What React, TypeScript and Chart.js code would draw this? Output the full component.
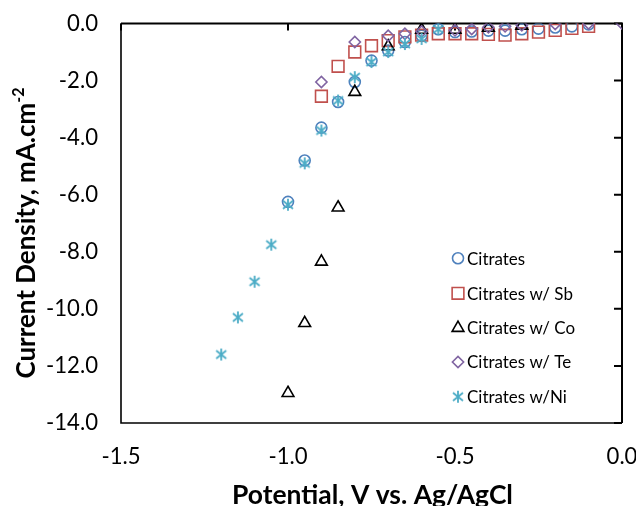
import React, { useEffect, useRef } from "react";
import { Chart, registerables } from "chart.js";
import { drawPoint } from "chart.js/helpers";

Chart.register(...registerables);

const seriesNames = ["Citrates", "Citrates w/ Sb", "Citrates w/ Co", "Citrates w/ Te", "Citrates w/Ni"];

const citratesV = [-1.0, -0.95, -0.9, -0.85, -0.8, -0.75, -0.7, -0.65, -0.6, -0.55, -0.5, -0.45, -0.4, -0.35, -0.3, -0.25, -0.2, -0.15, -0.1];
const citratesJ = [-6.25, -4.8, -3.65, -2.75, -2.05, -1.3, -0.95, -0.65, -0.43, -0.2, -0.3, -0.28, -0.25, -0.25, -0.2, -0.18, -0.14, -0.1, -0.03];

const sbV = [-0.9, -0.85, -0.8, -0.75, -0.7, -0.65, -0.6, -0.55, -0.5, -0.45, -0.4, -0.35, -0.3, -0.25, -0.2, -0.15, -0.1];
const sbJ = [-2.55, -1.5, -1.0, -0.78, -0.6, -0.47, -0.41, -0.36, -0.36, -0.36, -0.38, -0.41, -0.36, -0.3, -0.24, -0.17, -0.1];

const coV = [-1.0, -0.95, -0.9, -0.85, -0.8, -0.7, -0.6, -0.5, -0.4, -0.3];
const coJ = [-12.95, -10.5, -8.35, -6.45, -2.4, -0.8, -0.22, -0.22, -0.15, -0.08];

const teV = [-0.9, -0.8, -0.7, -0.65, -0.6, -0.5, -0.45, -0.4, -0.35, -0.3, -0.2, -0.1, 0.0];
const teJ = [-2.05, -0.65, -0.43, -0.36, -0.28, -0.24, -0.19, -0.13, -0.1, -0.06, -0.02, 0, 0];

const niV = [-1.2, -1.15, -1.1, -1.05, -1.0, -0.95, -0.9, -0.85, -0.8, -0.75, -0.7, -0.65, -0.6, -0.55];
const niJ = [-11.6, -10.3, -9.05, -7.75, -6.35, -4.9, -3.75, -2.7, -1.88, -1.35, -1.0, -0.72, -0.54, -0.2];

const xTicks = [-1.5, -1.0, -0.5, 0.0];
const yTicks = [0, -2, -4, -6, -8, -10, -12, -14];

const xTitle = "Potential, V vs. Ag/AgCl";
const yTitleMain = "Current Density, mA.cm";
const yTitleSup = "-2";

const FAMILY = "Lato";

function toPoints(xs: number[], ys: number[]) {
  return xs.map((x, i) => ({ x, y: ys[i] }));
}

function makeStar(color: string) {
  const c = document.createElement("canvas");
  c.width = 14;
  c.height = 14;
  const g = c.getContext("2d")!;
  g.strokeStyle = color;
  g.lineWidth = 1.8;
  g.beginPath();
  g.moveTo(7, 1);
  g.lineTo(7, 13);
  g.moveTo(2, 3);
  g.lineTo(12, 11);
  g.moveTo(2, 11);
  g.lineTo(12, 3);
  g.stroke();
  return c;
}

export default function App() {
  const ref = useRef<HTMLCanvasElement>(null);

  useEffect(() => {
    const canvas = ref.current!;
    const mctx = canvas.getContext("2d")!;
    const fit = (text: string, weight: string, target: number) => {
      mctx.font = `${weight} 100px ${FAMILY}`;
      return (100 * target) / mctx.measureText(text).width;
    };
    const tickSize = fit("-14.0", "normal", 52);
    const legendSize = fit("Citrates w/ Sb", "normal", 106);
    const xTitleSize = fit(xTitle, "bold", 281);
    const yTitleSize = fit(yTitleMain, "bold", 276);

    const star = makeStar("#4BACC6");

    const styles = [
      { color: "#4F81BD", pointStyle: "circle", radius: 5.5 },
      { color: "#C0504D", pointStyle: "rect", radius: 8.3 },
      { color: "#000000", pointStyle: "triangle", radius: 6.8 },
      { color: "#8064A2", pointStyle: "rectRot", radius: 5.6 },
      { color: "#4BACC6", pointStyle: star as any, radius: 7 },
    ];
    const seriesData = [
      toPoints(citratesV, citratesJ),
      toPoints(sbV, sbJ),
      toPoints(coV, coJ),
      toPoints(teV, teJ),
      toPoints(niV, niJ),
    ];

    const framePlugin = {
      id: "frame",
      beforeDatasetsDraw(chart: any) {
        const { ctx, chartArea } = chart;
        const { left, right, top, bottom } = chartArea;
        const xs = chart.scales.x;
        const ys = chart.scales.y;
        ctx.save();
        ctx.strokeStyle = "#000";
        ctx.lineWidth = 1.6;
        ctx.beginPath();
        ctx.moveTo(left, top);
        ctx.lineTo(left, bottom);
        ctx.lineTo(right, bottom);
        ctx.stroke();
        ctx.lineWidth = 2;
        ctx.beginPath();
        ctx.moveTo(left, top);
        ctx.lineTo(right, top);
        ctx.lineTo(right, bottom);
        ctx.stroke();
        ctx.beginPath();
        for (const v of xTicks) {
          const px = xs.getPixelForValue(v);
          ctx.moveTo(px, top);
          ctx.lineTo(px, top + 7);
        }
        for (const v of yTicks) {
          const py = ys.getPixelForValue(v);
          ctx.moveTo(right, py);
          ctx.lineTo(right - 8, py);
        }
        ctx.stroke();
        ctx.restore();
      },
      afterDraw(chart: any) {
        const { ctx, chartArea } = chart;
        ctx.save();
        ctx.fillStyle = "#000";
        // x title
        ctx.font = `bold ${xTitleSize}px ${FAMILY}`;
        ctx.textAlign = "center";
        ctx.textBaseline = "alphabetic";
        ctx.fillText(xTitle, (chartArea.left + chartArea.right) / 2 + 1, 504);
        // y title
        ctx.font = `bold ${yTitleSize}px ${FAMILY}`;
        const wMain = ctx.measureText(yTitleMain).width;
        const supSize = yTitleSize * 0.62;
        ctx.font = `bold ${supSize}px ${FAMILY}`;
        const wSup = ctx.measureText(yTitleSup).width;
        const total = wMain + wSup;
        ctx.translate(35, 233);
        ctx.rotate(-Math.PI / 2);
        ctx.textAlign = "left";
        ctx.font = `bold ${yTitleSize}px ${FAMILY}`;
        ctx.fillText(yTitleMain, -total / 2, 0);
        ctx.font = `bold ${supSize}px ${FAMILY}`;
        ctx.fillText(yTitleSup, -total / 2 + wMain, -yTitleSize * 0.42);
        ctx.restore();

        // legend
        ctx.save();
        const rows = [258.3, 293.3, 328, 362, 396.7];
        ctx.font = `${legendSize}px ${FAMILY}`;
        ctx.textAlign = "left";
        ctx.textBaseline = "middle";
        seriesNames.forEach((name, i) => {
          const s = styles[i];
          ctx.strokeStyle = s.color;
          ctx.fillStyle = "rgba(0,0,0,0)";
          ctx.lineWidth = 1.6;
          drawPoint(ctx, { pointStyle: s.pointStyle, radius: s.radius, borderWidth: 1.6, rotation: 0 } as any, 458, rows[i]);
          ctx.fillStyle = "#000";
          ctx.fillText(name, 467, rows[i] + 1);
        });
        ctx.restore();
      },
    };

    const chart = new Chart(canvas, {
      type: "scatter",
      data: {
        datasets: seriesNames.map((name, i) => ({
          label: name,
          data: seriesData[i],
          pointStyle: styles[i].pointStyle as any,
          pointRadius: styles[i].radius,
          pointHoverRadius: styles[i].radius,
          borderColor: styles[i].color,
          backgroundColor: "rgba(0,0,0,0)",
          pointBorderWidth: 1.6,
          borderWidth: 1.6,
          showLine: false,
          order: 4 - i,
        })),
      },
      options: {
        responsive: false,
        animation: false,
        events: [],
        layout: { padding: { top: 23.5, right: 14, left: 0, bottom: 0 } },
        plugins: {
          legend: { display: false },
          tooltip: { enabled: false },
          title: { display: false },
        },
        scales: {
          x: {
            type: "linear",
            min: -1.5,
            max: 0,
            afterBuildTicks: (s: any) => {
              s.ticks = xTicks.map((v) => ({ value: v }));
            },
            afterFit: (s: any) => {
              s.height = 83;
              s.paddingLeft = 0;
              s.paddingRight = 0;
            },
            ticks: {
              callback: (v: any) => Number(v).toFixed(1),
              font: { family: FAMILY, size: tickSize },
              color: "#000",
              padding: 457 - 423 - (tickSize * 1.2) / 2,
              maxRotation: 0,
              autoSkip: false,
            },
            grid: { display: false, drawTicks: false },
            border: { display: false },
          },
          y: {
            type: "linear",
            min: -14,
            max: 0,
            afterBuildTicks: (s: any) => {
              s.ticks = yTicks.map((v) => ({ value: v }));
            },
            afterFit: (s: any) => {
              s.width = 121;
              s.paddingTop = 0;
              s.paddingBottom = 0;
            },
            ticks: {
              callback: (v: any) => Number(v).toFixed(1),
              font: { family: FAMILY, size: tickSize },
              color: "#000",
              padding: 23,
              autoSkip: false,
            },
            grid: { display: false, drawTicks: false },
            border: { display: false },
          },
        },
      },
      plugins: [framePlugin],
    });

    return () => chart.destroy();
  }, []);

  return (
    <div style={{ position: "fixed", left: 0, top: 0, width: 636, height: 506, background: "#fff" }}>
      <canvas ref={ref} width={636} height={506} style={{ display: "block" }} />
    </div>
  );
}
